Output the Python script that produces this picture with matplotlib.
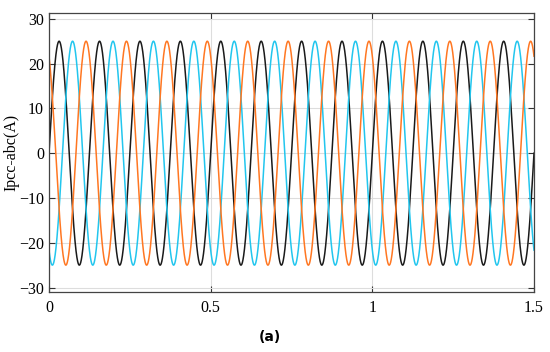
import numpy as np
import matplotlib
matplotlib.use("Agg")
import matplotlib.pyplot as plt

# Three-phase PCC current
AMPLITUDE = 25.0          # A
FREQ = 8.0                # Hz (12 cycles over 1.5 s)
PHASES_DEG = [0, -120, 120]
COLORS = ["#1a1a1a", "#22c6ee", "#ff7722"]
T_END = 1.5

plt.rcParams["font.family"] = ["Liberation Serif", "DejaVu Serif"]

t = np.linspace(0, T_END, 4000)

fig = plt.figure(figsize=(5.5, 3.52), dpi=100)
ax = fig.add_axes([49 / 550, 1 - 292 / 352, 485 / 550, 279 / 352])

for ph, c in zip(PHASES_DEG, COLORS):
    ax.plot(t, AMPLITUDE * np.sin(2 * np.pi * FREQ * t + np.deg2rad(ph)),
            color=c, linewidth=1.1)

ax.set_xlim(0, T_END)
ax.set_ylim(-31, 31.3)
ax.set_xticks([0, 0.5, 1, 1.5])
ax.set_xticklabels(["0", "0.5", "1", "1.5"])
ax.set_yticks([-30, -20, -10, 0, 10, 20, 30])
ax.set_yticklabels(["\u221230", "\u221220", "\u221210", "0", "10", "20", "30"])
ax.tick_params(direction="in", top=True, right=True, labelsize=11.5, length=4,
               width=0.8, colors="#333333", labelcolor="black")
ax.tick_params(axis="x", pad=6)
ax.grid(color="#dddddd", linewidth=0.8)
for s in ax.spines.values():
    s.set_color("#444444")
    s.set_linewidth(0.9)
ax.set_ylabel("Ipcc-abc(A)", fontsize=11.5, labelpad=0)

fig.text(270 / 550, 1 - 337 / 352, "(a)", ha="center", va="center",
         fontsize=10, fontweight="bold", family=["DejaVu Sans"])

fig.savefig("out.png", dpi=100)
